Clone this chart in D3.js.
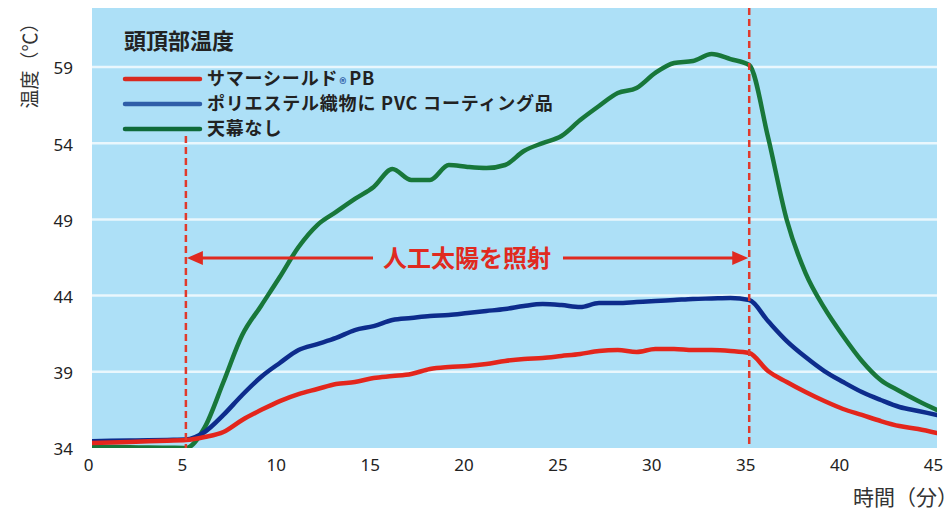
<!DOCTYPE html>
<html><head><meta charset="utf-8">
<script src="https://cdn.jsdelivr.net/npm/d3@7"></script>
<style>
html,body{margin:0;padding:0;background:#fff;}
svg{display:block;}
text{font-family:"Noto Sans","Noto Sans CJK JP",sans-serif;}
</style></head>
<body>
<svg id="chart" width="945" height="508"></svg>
<script>
const minutes = [0,1,2,3,4,5,6,7,8,9,10,11,12,13,14,15,16,17,18,19,20,21,22,23,24,25,26,27,28,29,30,31,32,33,34,35,36,37,38,39,40,41,42,43,44,45];
const summerShield = [34.33,34.36,34.40,34.44,34.48,34.52,34.72,35.05,35.84,36.49,37.08,37.54,37.87,38.20,38.33,38.59,38.72,38.86,39.18,39.31,39.38,39.51,39.71,39.84,39.91,40.04,40.17,40.37,40.43,40.30,40.50,40.50,40.43,40.43,40.37,40.23,39.05,38.33,37.67,37.08,36.56,36.17,35.77,35.44,35.25,34.98];
const pvcCoated = [34.45,34.47,34.49,34.51,34.53,34.55,35.05,36.17,37.48,38.66,39.58,40.43,40.82,41.22,41.74,42.00,42.40,42.53,42.66,42.73,42.86,42.99,43.12,43.32,43.45,43.38,43.25,43.51,43.51,43.58,43.65,43.71,43.78,43.81,43.84,43.71,42.33,41.02,39.97,39.05,38.33,37.67,37.15,36.69,36.43,36.17];
const noCanopy = [34.07,34.06,34.05,34.03,34.02,34.00,35.35,38.33,41.41,43.32,45.22,47.19,48.63,49.49,50.34,51.13,52.31,51.59,51.59,52.57,52.44,52.37,52.57,53.49,54.01,54.47,55.52,56.44,57.29,57.62,58.61,59.26,59.39,59.85,59.52,59.13,54.41,48.96,45.48,43.19,41.35,39.71,38.46,37.74,37.08,36.49];
const seriesNames = ["サマーシールド", "ポリエステル織物に PVC コーティング品", "天幕なし"];
const xTicks = [0,5,10,15,20,25,30,35,40,45];
const yTicks = [34,39,44,49,54,59];
const irradiation = [5, 35];
const chartTitle = "頭頂部温度";
const annotation = "人工太陽を照射";
const xTitle = "時間（分）";
const yTitle = "温度（℃）";

const svg = d3.select("#chart");
const L = 92, R = 937, T = 8, B = 448;
const x = d3.scaleLinear().domain([0,45]).range([L,R]);
const y = d3.scaleLinear().domain([34, 34 + (B - T) / 76.2 * 5]).range([B,T]);

const bg = "#ade0f7";
svg.append("rect").attr("x",L).attr("y",T).attr("width",R-L).attr("height",B-T).attr("fill",bg);

// grid lines
svg.append("g").selectAll("line").data(yTicks.slice(1)).join("line")
  .attr("x1",L).attr("x2",R).attr("y1",d=>y(d)).attr("y2",d=>y(d))
  .attr("stroke","#eaf7fd").attr("stroke-width",2.5);

// axes labels
const yAxis = d3.axisLeft(y).tickValues(yTicks).tickSize(0).tickPadding(0);
const gy = svg.append("g").attr("transform",`translate(73,0)`).call(yAxis);
gy.select(".domain").remove();
gy.selectAll("text").attr("font-size",17).attr("fill","#222").attr("dy","0.4em")
  .style("font-family","'Noto Sans',sans-serif");

const xAxis = d3.axisBottom(x).tickValues(xTicks).tickSize(0).tickPadding(0);
const gx = svg.append("g").attr("transform",`translate(-4,458)`).call(xAxis);
gx.select(".domain").remove();
gx.selectAll("text").attr("font-size",17).attr("fill","#222").attr("dy","0.75em")
  .style("font-family","'Noto Sans',sans-serif");

// clip
svg.append("clipPath").attr("id","clip").append("rect").attr("x",L).attr("y",T).attr("width",R-L).attr("height",B-T);

const line = d3.line().x((d,i)=>x(minutes[i])).y(d=>y(d)).curve(d3.curveMonotoneX);
const plotG = svg.append("g").attr("clip-path","url(#clip)");
const lineSeries = [
  {vals:noCanopy, color:"#18773a"},
  {vals:pvcCoated, color:"#0d2c8c"},
  {vals:summerShield, color:"#e3261c"}
];
lineSeries.forEach(s=>{
  plotG.append("path").attr("d",line(s.vals)).attr("fill","none")
    .attr("stroke",s.color).attr("stroke-width",4.5).attr("stroke-linejoin","round").attr("stroke-linecap","round");
});

// dashed vertical lines
svg.append("line").attr("x1",x(irradiation[0])).attr("x2",x(irradiation[0])).attr("y1",136).attr("y2",B)
  .attr("stroke","#e03a2c").attr("stroke-width",2.5).attr("stroke-dasharray","7,4");
svg.append("line").attr("x1",x(irradiation[1])).attr("x2",x(irradiation[1])).attr("y1",T).attr("y2",B)
  .attr("stroke","#e03a2c").attr("stroke-width",2.5).attr("stroke-dasharray","7,4");

// arrow
const ay = 258;
const ax0 = x(irradiation[0]), ax1 = x(irradiation[1]);
const red = "#e02a20";
svg.append("line").attr("x1",ax0+10).attr("x2",373).attr("y1",ay).attr("y2",ay).attr("stroke",red).attr("stroke-width",3);
svg.append("line").attr("x1",563).attr("x2",ax1-10).attr("y1",ay).attr("y2",ay).attr("stroke",red).attr("stroke-width",3);
svg.append("path").attr("d",`M${ax0+1},${ay} L${ax0+17},${ay-7} L${ax0+17},${ay+7} Z`).attr("fill",red);
svg.append("path").attr("d",`M${ax1-1},${ay} L${ax1-17},${ay-7} L${ax1-17},${ay+7} Z`).attr("fill",red);
svg.append("text").attr("x",467).attr("y",ay).attr("dy","0.36em").attr("text-anchor","middle")
  .attr("font-size",24).attr("font-weight","bold").attr("fill",red)
  .style("font-family","'Noto Sans CJK JP',sans-serif").text(annotation);

// legend
svg.append("text").attr("x",124).attr("y",49).attr("font-size",22).attr("font-weight","bold").attr("fill","#222")
  .style("font-family","'Noto Sans CJK JP',sans-serif").text(chartTitle);
const legendColors = ["#d82a20","#2f5ea8","#0f6a3a"];
const legendY = [79,104,129];
seriesNames.forEach((n,i)=>{
  svg.append("line").attr("x1",125).attr("x2",200).attr("y1",legendY[i]).attr("y2",legendY[i])
    .attr("stroke",legendColors[i]).attr("stroke-width",4.5).attr("stroke-linecap","round");
  const t = svg.append("text").attr("x",207).attr("y",legendY[i]).attr("dy","0.36em")
    .attr("font-size",18).attr("font-weight","bold").attr("fill","#222").attr("letter-spacing","0.8px")
    .style("font-family","'Noto Sans CJK JP',sans-serif");
  t.append("tspan").text(n);
  if(i===0){
    t.append("tspan").attr("font-size",14).attr("dy",4).attr("dx",1).attr("fill","#2f5ea8").text("®");
    t.append("tspan").attr("dy",-4).attr("dx",2).text("PB");
  }
});

// axis titles
svg.append("text").attr("x",853).attr("y",497).attr("dy","0.36em").attr("font-size",21).attr("fill","#333")
  .style("font-family","'Noto Sans CJK JP',sans-serif").text(xTitle);
svg.append("text").attr("transform","translate(30,61) rotate(-90)").attr("text-anchor","middle").attr("dy","0.36em")
  .attr("font-size",19).attr("fill","#333")
  .style("font-family","'Noto Sans CJK JP',sans-serif").text(yTitle);
</script>
</body></html>
